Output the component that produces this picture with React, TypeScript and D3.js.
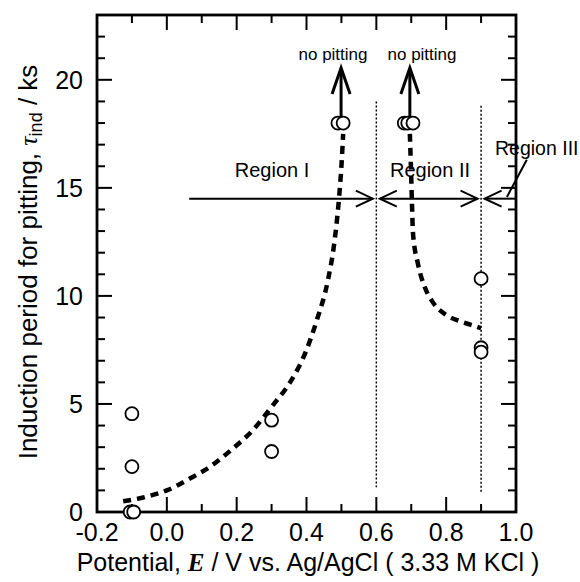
import React from "react";
import * as d3 from "d3";

const xTicks = [-0.2, 0.0, 0.2, 0.4, 0.6, 0.8, 1.0];
const xMinorTicks = [-0.2, -0.1, 0.0, 0.1, 0.2, 0.3, 0.4, 0.5, 0.6, 0.7, 0.8, 0.9, 1.0];
const yTicks = [0, 5, 10, 15, 20];
const yMinorTicks = d3.range(0, 24, 1);

const pointE = [-0.1, -0.1, -0.105, -0.095, 0.3, 0.3, 0.49, 0.505, 0.68, 0.69, 0.705, 0.9, 0.9, 0.9];
const pointTau = [4.55, 2.1, 0, 0, 4.25, 2.8, 18, 18, 18, 18, 18, 10.8, 7.6, 7.4];

const curve1E = [-0.125, -0.06, 0.0, 0.066, 0.124, 0.19, 0.247, 0.304, 0.353, 0.4, 0.43, 0.461, 0.48, 0.493, 0.5, 0.505];
const curve1Tau = [0.5, 0.7, 1.0, 1.55, 2.1, 2.95, 3.8, 4.95, 6.0, 7.5, 8.9, 10.7, 12.5, 14.5, 16.0, 17.5];
const curve2E = [0.696, 0.699, 0.702, 0.705, 0.719, 0.739, 0.762, 0.802, 0.845, 0.888, 0.9];
const curve2Tau = [17.5, 16.0, 14.3, 12.9, 11.5, 10.4, 9.7, 9.1, 8.8, 8.57, 8.5];

const W = 580, H = 582;
const L = 97, R = 516, T = 15, B = 512;

export default function App() {
  const x = d3.scaleLinear().domain([-0.2, 1.0]).range([L, R]);
  const y = d3.scaleLinear().domain([0, 23]).range([B, T]);
  const font = "'Liberation Sans', Arial, Helvetica, sans-serif";

  const line = d3.line<[number, number]>().x(d => x(d[0])).y(d => y(d[1])).curve(d3.curveMonotoneX);
  const c1 = line(curve1E.map((e, i) => [e, curve1Tau[i]] as [number, number]));
  const c2 = line(curve2E.map((e, i) => [e, curve2Tau[i]] as [number, number]));

  const arrowHeadH = (tx: number, ty: number, dir: number) => {
    const len = 17, hw = 8;
    return `M${tx - dir * len},${ty - hw} L${tx},${ty} L${tx - dir * len},${ty + hw}`;
  };
  const arrowHeadUp = (tx: number, ty: number) => {
    const len = 26, hw = 9;
    return `M${tx - hw},${ty + len} L${tx},${ty} L${tx + hw},${ty + len}`;
  };

  const ay = y(14.5);
  const majorLen = 15, minorLen = 8;

  return (
    <svg width={W} height={H} style={{ position: "absolute", left: 0, top: 0, background: "#fff" }}>
      <rect x={0} y={0} width={W} height={H} fill="#fff" />
      {/* ticks */}
      {xMinorTicks.map((t, i) => {
        const major = xTicks.some(v => Math.abs(v - t) < 1e-6);
        const len = major ? majorLen : minorLen;
        return (
          <g key={"xt" + i} stroke="#000" strokeWidth={2}>
            <line x1={x(t)} x2={x(t)} y1={B} y2={B - len} />
            <line x1={x(t)} x2={x(t)} y1={T} y2={T + len} />
          </g>
        );
      })}
      {yMinorTicks.map((t, i) => {
        const major = yTicks.includes(t);
        const len = major ? majorLen : minorLen;
        return (
          <g key={"yt" + i} stroke="#000" strokeWidth={2}>
            <line x1={L} x2={L + len} y1={y(t)} y2={y(t)} />
            <line x1={R} x2={R - len} y1={y(t)} y2={y(t)} />
          </g>
        );
      })}
      <rect x={L} y={T} width={R - L} height={B - T} fill="none" stroke="#000" strokeWidth={2.8} />

      {/* tick labels */}
      {xTicks.map((t, i) => (
        <text key={"xl" + i} x={x(t)} y={541} textAnchor="middle" fontFamily={font} fontSize={25} fill="#000">
          {t.toFixed(1)}
        </text>
      ))}
      {yTicks.map((t, i) => (
        <text key={"yl" + i} x={83} y={y(t) + 9} textAnchor="end" fontFamily={font} fontSize={25} fill="#000">
          {t}
        </text>
      ))}

      {/* axis titles */}
      <text x={308} y={571} textAnchor="middle" fontFamily={font} fontSize={25} fill="#000">
        Potential,{" "}
        <tspan fontFamily="'Liberation Serif', 'Times New Roman', serif" fontStyle="italic" fontWeight="bold">E</tspan>
        {" "}/ V vs. Ag/AgCl ( 3.33 M KCl )
      </text>
      <text transform={`translate(37,262) rotate(-90)`} textAnchor="middle" fontFamily={font} fontSize={26} fill="#000">
        Induction period for pitting,{" "}
        <tspan fontFamily="'Liberation Serif', 'Times New Roman', serif" fontStyle="italic">τ</tspan>
        <tspan fontSize={18} dy={5}>ind</tspan>
        <tspan dy={-5}> / ks</tspan>
      </text>

      {/* dotted region boundaries */}
      <line x1={x(0.6)} x2={x(0.6)} y1={y(19.0)} y2={y(1.15)} stroke="#000" strokeWidth={1.5} strokeDasharray="2,2" />
      <line x1={x(0.9)} x2={x(0.9)} y1={y(18.8)} y2={y(0.9)} stroke="#000" strokeWidth={1.5} strokeDasharray="2,2" />

      {/* dashed curves */}
      <path d={c1 || ""} fill="none" stroke="#000" strokeWidth={4.5} strokeDasharray="8,6" />
      <path d={c2 || ""} fill="none" stroke="#000" strokeWidth={4.5} strokeDasharray="8,6" />

      {/* region arrows */}
      <g stroke="#000" strokeWidth={2} fill="none">
        <line x1={x(0.064)} x2={x(0.59)} y1={ay} y2={ay} />
        <path d={arrowHeadH(x(0.59), ay, 1)} />
        <line x1={x(0.61)} x2={x(0.89)} y1={ay} y2={ay} />
        <path d={arrowHeadH(x(0.61), ay, -1)} />
        <path d={arrowHeadH(x(0.89), ay, 1)} />
        <line x1={x(0.91)} x2={x(1.0)} y1={ay} y2={ay} />
        <path d={arrowHeadH(x(0.91), ay, -1)} />
        <line x1={x(1.031)} y1={y(16.3)} x2={x(0.974)} y2={y(14.58)} />
      </g>
      <text x={272} y={177} textAnchor="middle" fontFamily={font} fontSize={20} fill="#000">Region I</text>
      <text x={430} y={177} textAnchor="middle" fontFamily={font} fontSize={20} fill="#000">Region II</text>
      <text x={495} y={155} textAnchor="start" fontFamily={font} fontSize={19.5} fill="#000">Region III</text>

      {/* no pitting arrows */}
      <g stroke="#000" strokeWidth={3} fill="none">
        <line x1={x(0.499)} x2={x(0.499)} y1={y(18.3)} y2={y(20.5)} />
        <path d={arrowHeadUp(x(0.499), y(20.55))} />
        <line x1={x(0.696)} x2={x(0.696)} y1={y(18.3)} y2={y(20.5)} />
        <path d={arrowHeadUp(x(0.696), y(20.55))} />
      </g>
      <text x={333} y={60} textAnchor="middle" fontFamily={font} fontSize={17} fill="#000">no pitting</text>
      <text x={422} y={60} textAnchor="middle" fontFamily={font} fontSize={17} fill="#000">no pitting</text>

      {/* data points */}
      {pointE.map((e, i) => (
        <circle key={"p" + i} cx={x(e)} cy={y(pointTau[i])} r={6.5} fill="#fff" stroke="#000" strokeWidth={1.8} />
      ))}
    </svg>
  );
}
